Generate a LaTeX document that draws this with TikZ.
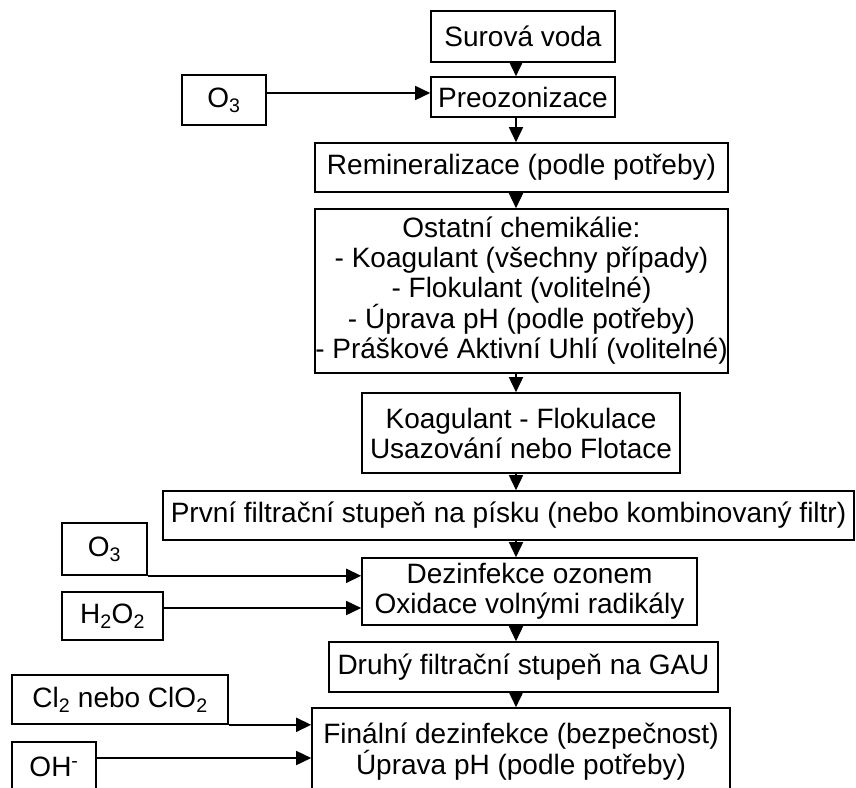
\documentclass[tikz,border=0pt]{standalone}
\usepackage{fontspec}
\setmainfont{Liberation Sans}
\usetikzlibrary{arrows.meta}
\begin{document}
\begin{tikzpicture}[x=1pt,y=-1pt,
  box/.style={draw, line width=1.6pt, inner sep=0pt, align=center,
    font=\fontsize{28}{30}\selectfont},
  arr/.style={line width=1.6pt, -{Triangle[length=15pt,width=14pt]}}]
\useasboundingbox (0,0) rectangle (856,787);
\clip (0,0) rectangle (856,787);
\coordinate (ax) at (516,0);
\node[box, minimum width=184pt, minimum height=51pt] (sv) at (523,36.5) {Surová voda};
\node[box, minimum width=184pt, minimum height=40pt] (pre) at (523,97) {Preozonizace};
\node[box, minimum width=84pt, minimum height=50pt] (o3a) at (224,100) {O\textsubscript{3}};
\node[box, minimum width=413pt, minimum height=49pt] (rem) at (521.5,167.5) {Remineralizace (podle potřeby)};
\node[box, minimum width=413pt, minimum height=164pt] (ost) at (521.5,291) {Ostatní chemikálie:\\- Koagulant (všechny případy)\\- Flokulant (volitelné)\\- Úprava pH (podle potřeby)\\- Práškové Aktivní Uhlí (volitelné)};
\node[box, minimum width=318pt, minimum height=80pt] (koa) at (521,433) {Koagulant - Flokulace\\Usazování nebo Flotace};
\node[box, minimum width=691pt, minimum height=49pt] (prv) at (508.5,515.5) {První filtrační stupeň na písku (nebo kombinovaný filtr)};
\node[box, minimum width=85pt, minimum height=52pt] (o3b) at (104.5,549) {O\textsubscript{3}};
\node[box, minimum width=101pt, minimum height=48pt] (h2) at (112.5,616) {H\textsubscript{2}O\textsubscript{2}};
\node[box, minimum width=335pt, minimum height=67pt] (dez) at (529.5,591.5) {Dezinfekce ozonem\\Oxidace volnými radikály};
\node[box, minimum width=389pt, minimum height=50pt] (dru) at (523.5,667) {Druhý filtrační stupeň na GAU};
\node[box, minimum width=216pt, minimum height=49pt] (cl) at (120,699.5) {Cl\textsubscript{2} nebo ClO\textsubscript{2}};
\node[box, minimum width=418pt, minimum height=88pt] (fin) at (521,752) {Finální dezinfekce (bezpečnost)\\Úprava pH (podle potřeby)};
\node[box, minimum width=84pt, minimum height=50pt] (oh) at (54,767) {OH\textsuperscript{-}};
\draw[arr] (sv.south -| ax) -- (pre.north -| ax);
\draw[arr] (pre.south -| ax) -- (rem.north -| ax);
\draw[arr] (rem.south -| ax) -- (ost.north -| ax);
\draw[arr] (ost.south -| ax) -- (koa.north -| ax);
\draw[arr] (koa.south -| ax) -- (prv.north -| ax);
\draw[arr] (prv.south -| ax) -- (dez.north -| ax);
\draw[arr] (dez.south -| ax) -- (dru.north -| ax);
\draw[arr] (dru.south -| ax) -- (fin.north -| ax);
\draw[arr] ([yshift=7pt]o3a.east) -- ([yshift=7pt]o3a.east -| pre.west);
\draw[arr] (o3b.south east) -- (o3b.south east -| dez.west);
\draw[arr] ([yshift=8pt]h2.east) -- ([yshift=8pt]h2.east -| dez.west);
\draw[arr] (cl.south east) -- (cl.south east -| fin.west);
\draw[arr] ([yshift=9pt]oh.east) -- ([yshift=9pt]oh.east -| fin.west);
\end{tikzpicture}
\end{document}
